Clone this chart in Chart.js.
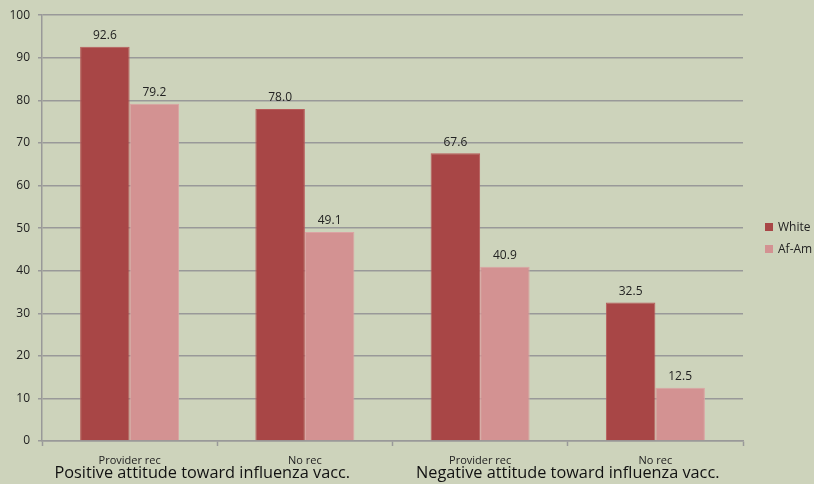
<!DOCTYPE html>
<html>
<head>
<meta charset="utf-8">
<script src="https://cdn.jsdelivr.net/npm/chart.js@4"></script>
<style>
  html, body { margin: 0; padding: 0; background: #cdd3bb; }
  #wrap { width: 814px; height: 484px; }
</style>
</head>
<body>
<div id="wrap"><canvas id="chart" width="814" height="484"></canvas></div>
<script>
const categories = ['Provider rec', 'No rec', 'Provider rec', 'No rec'];
const groupLabels = ['Positive attitude toward influenza vacc.', 'Negative attitude toward influenza vacc.'];
const seriesNames = ['White', 'Af-Am'];
const whiteValues = [92.6, 78.0, 67.6, 32.5];
const afAmValues = [79.2, 49.1, 40.9, 12.5];
const colors = ['#a84646', '#d39292'];
const borders = ['#b85a5a', '#dba3a3'];

const FONT = '"Open Sans", "Noto Sans", sans-serif';

// value labels above bars, group labels under axis, legend on the right
const extras = {
  id: 'extras',
  afterDatasetsDraw(chart) {
    const ctx = chart.ctx;
    ctx.save();
    ctx.fillStyle = '#222';
    ctx.font = '12px ' + FONT;
    ctx.textAlign = 'center';
    ctx.textBaseline = 'bottom';
    chart.data.datasets.forEach((ds, i) => {
      chart.getDatasetMeta(i).data.forEach((bar, j) => {
        ctx.fillText(ds.data[j].toFixed(1), bar.x, bar.y - 5);
      });
    });

    const x = chart.scales.x;
    ctx.font = '16.3px ' + FONT;
    ctx.textBaseline = 'middle';
    ctx.fillStyle = '#111';
    const g1 = (x.getPixelForValue(0) + x.getPixelForValue(1)) / 2 - 15;
    const g2 = (x.getPixelForValue(2) + x.getPixelForValue(3)) / 2;
    ctx.fillText(groupLabels[0], g1, 473);
    ctx.fillText(groupLabels[1], g2, 473);

    ctx.font = '12px ' + FONT;
    ctx.textAlign = 'left';
    chart.data.datasets.forEach((ds, i) => {
      const y = 227 + i * 22;
      ctx.fillStyle = ds.backgroundColor;
      ctx.fillRect(765, y - 4, 8, 8);
      ctx.fillStyle = '#222';
      ctx.fillText(ds.label, 778, y + 1);
    });
    ctx.restore();
  }
};

new Chart(document.getElementById('chart'), {
  type: 'bar',
  data: {
    labels: categories,
    datasets: [
      {label: seriesNames[0], data: whiteValues, backgroundColor: colors[0], borderColor: borders[0], borderWidth: 1, categoryPercentage: 0.565, barPercentage: 1},
      {label: seriesNames[1], data: afAmValues, backgroundColor: colors[1], borderColor: borders[1], borderWidth: 1, categoryPercentage: 0.565, barPercentage: 1}
    ]
  },
  options: {
    responsive: false,
    animation: false,
    layout: {padding: {top: 15, right: 71, left: 0, bottom: 0}},
    plugins: {legend: {display: false}, tooltip: {enabled: false}},
    scales: {
      x: {
        grid: {offset: true, drawOnChartArea: false, color: '#999', tickLength: 5, tickWidth: 1.5},
        border: {color: '#999', width: 1.5},
        ticks: {color: '#222', font: {family: FONT, size: 11}, padding: 8},
        afterFit(scale) { scale.height = 43; }
      },
      y: {
        min: 0, max: 100,
        ticks: {stepSize: 10, color: '#222', font: {family: FONT, size: 12}, padding: 8},
        grid: {color: '#999', lineWidth: 1.5, tickLength: 4},
        border: {color: '#999', width: 1.5},
        afterFit(scale) { scale.width = 42; }
      }
    }
  },
  plugins: [extras]
});
</script>
</body>
</html>
